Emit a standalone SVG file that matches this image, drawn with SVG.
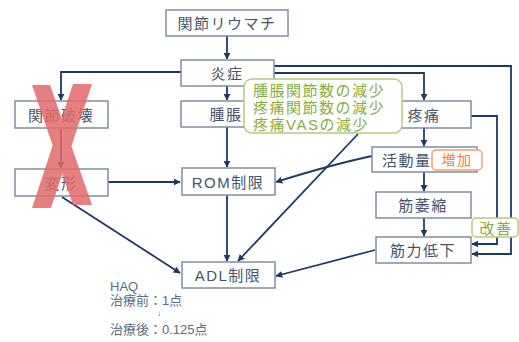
<svg xmlns="http://www.w3.org/2000/svg" width="519" height="342" viewBox="0 0 519 342">
<defs>
<marker id="ah" viewBox="0 0 10 10" refX="9" refY="5" markerWidth="7" markerHeight="7" markerUnits="userSpaceOnUse" orient="auto">
<path d="M0,0 L10,5 L0,10 z" fill="#1f3864"/>
</marker>
<style>
.box{fill:#fff;stroke:#7f8da3;stroke-width:1.5}
.t{font-family:"Liberation Sans","Noto Sans CJK JP",sans-serif;font-size:15px;fill:#45546a;text-anchor:middle;dominant-baseline:central;letter-spacing:1.5px}
.c{fill:none;stroke:#1f3864;stroke-width:1.8;marker-end:url(#ah)}
.g{font-family:"Liberation Sans","Noto Sans CJK JP",sans-serif;font-size:15px;fill:#86ac44;letter-spacing:1.5px}
.h{font-family:"Liberation Sans","Noto Sans CJK JP",sans-serif;font-size:13px;fill:#5c6c80}
</style>
</defs>
<rect width="519" height="342" fill="#fff"/>
<g id="connectors">
<path class="c" d="M227,36 V59"/>
<path class="c" d="M181,72 H61 V100"/>
<path class="c" d="M227,86 V100"/>
<path class="c" d="M274,66 H511 V254 H472"/>
<path class="c" d="M274,73 H424 V100"/>
<path class="c" d="M471,116 H497 V244 H472"/>
<path class="c" d="M424,128 V146"/>
<path class="c" d="M424,172 V191"/>
<path class="c" d="M424,218 V236"/>
<path class="c" d="M372,156 Q330,165 276,182"/>
<path class="c" d="M375,250 Q330,262 276,276"/>
<path class="c" d="M358,134 L238,261"/>
<path class="c" d="M227,127 V167"/>
<path class="c" d="M227,195 V261"/>
<path class="c" d="M61,128 V168"/>
<path class="c" d="M108,182 H180"/>
<path class="c" d="M62,197 L180,273"/>
</g>
<g id="n-ra"><rect class="box" x="166" y="10" width="122" height="26"/><text class="t" x="227" y="23">関節リウマチ</text></g>
<g id="n-inflam"><rect class="box" x="181" y="60" width="93" height="26"/><text class="t" x="227" y="73">炎症</text></g>
<g id="n-destruct"><rect class="box" x="15" y="101" width="93" height="27"/><text class="t" x="61" y="115">関節破壊</text></g>
<g id="n-swell"><rect class="box" x="181" y="101" width="93" height="26"/><text class="t" x="226" y="114">腫脹</text></g>
<g id="n-pain"><rect class="box" x="395" y="101" width="76" height="27"/><text class="t" x="424" y="115">疼痛</text></g>
<g id="n-activity"><rect class="box" x="372" y="147" width="105" height="25"/><text class="t" x="382" y="160" style="text-anchor:start">活動量</text></g>
<g id="n-increase"><rect x="432" y="150" width="50" height="20" rx="4" fill="#fff" stroke="#f0a070" stroke-width="1.5"/><text class="t" x="457" y="160" style="fill:#ef7f3c;font-size:14px">増加</text></g>
<g id="n-atrophy"><rect class="box" x="376" y="192" width="95" height="26"/><text class="t" x="423" y="205">筋萎縮</text></g>
<g id="n-weak"><rect class="box" x="376" y="237" width="95" height="26"/><text class="t" x="423" y="250">筋力低下</text></g>
<g id="n-improve"><rect x="472" y="218" width="46" height="19" rx="4" fill="#fff" stroke="#b5cc80" stroke-width="1.5"/><text class="t" x="496" y="228" style="fill:#86ac44">改善</text></g>
<g id="n-deform"><rect class="box" x="15" y="169" width="93" height="27"/><text class="t" x="61" y="183">変形</text></g>
<g id="n-rom"><rect class="box" x="182" y="168" width="93" height="27"/><text class="t" x="228" y="182">ROM制限</text></g>
<g id="n-adl"><rect class="box" x="182" y="262" width="93" height="26"/><text class="t" x="228" y="275">ADL制限</text></g>
<g id="n-callout">
<rect x="244" y="79" width="158" height="54" rx="8" fill="#fff" stroke="#b5cc80" stroke-width="1.5"/>
<text class="g" x="253" y="96">腫脹関節数の減少</text>
<text class="g" x="253" y="113">疼痛関節数の減少</text>
<text class="g" x="253" y="130">疼痛VASの減少</text>
</g>
<g id="n-haq">
<text class="h" x="110" y="291">HAQ</text>
<text class="h" x="110" y="305">治療前：1点</text>
<text class="h" x="157" y="316" style="font-size:9px">↓</text>
<text class="h" x="110" y="334">治療後：0.125点</text>
</g>
<g id="cross" fill="#e26b6b" opacity="0.85">
<polygon points="32,85 50,85 92,205 73,205"/>
<polygon points="73,84 92,84 51,208 32,208"/>
</g>
</svg>
